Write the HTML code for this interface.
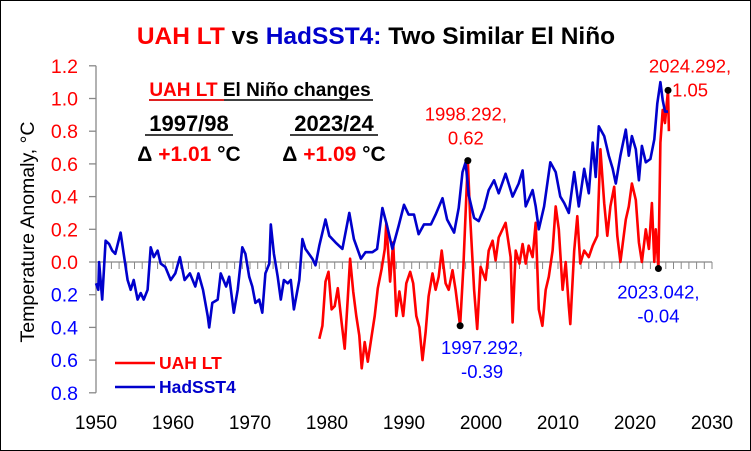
<!DOCTYPE html>
<html><head><meta charset="utf-8"><style>
html,body{margin:0;padding:0;background:#fff}
#wrap{position:relative;width:749px;height:449px;border:1px solid #000;overflow:hidden;font-family:"Liberation Sans",sans-serif}
svg{position:absolute;left:-1px;top:-1px}
</style></head><body>
<div id="wrap">
<svg id="chart" width="751" height="451" xmlns="http://www.w3.org/2000/svg">
<text x="376" y="44" text-anchor="middle" font-size="24.5" font-weight="bold"><tspan fill="#ff0000">UAH LT</tspan><tspan fill="#000"> vs </tspan><tspan fill="#0000cc">HadSST4:</tspan><tspan fill="#000"> Two Similar El Niño</tspan></text>
<text transform="translate(34,232) rotate(-90)" text-anchor="middle" font-size="19.5" fill="#000">Temperature Anomaly, °C</text>
<g>
<text x="260" y="96" text-anchor="middle" font-size="19" font-weight="bold"><tspan fill="#ff0000">UAH LT </tspan><tspan fill="#000">El Niño changes</tspan></text>
<line x1="149" y1="100" x2="373" y2="100" stroke="#000" stroke-width="1.5"/>
<line x1="149" y1="100" x2="224" y2="100" stroke="#ff0000" stroke-width="1.5"/>
<text x="189" y="131" text-anchor="middle" font-size="22" font-weight="bold" fill="#000">1997/98</text>
<line x1="145" y1="135" x2="233" y2="135" stroke="#000" stroke-width="1.5"/>
<text x="334" y="131" text-anchor="middle" font-size="22" font-weight="bold" fill="#000">2023/24</text>
<line x1="290" y1="135" x2="378" y2="135" stroke="#000" stroke-width="1.5"/>
<text x="189" y="161" text-anchor="middle" font-size="21" font-weight="bold"><tspan fill="#000">Δ </tspan><tspan fill="#ff0000">+1.01</tspan><tspan fill="#000"> °C</tspan></text>
<text x="334" y="161" text-anchor="middle" font-size="21" font-weight="bold"><tspan fill="#000">Δ </tspan><tspan fill="#ff0000">+1.09</tspan><tspan fill="#000"> °C</tspan></text>
</g>
<g id="axes"></g>
<g id="series"></g>
<g id="labels"></g>
<g>
<line x1="115" y1="363" x2="155" y2="363" stroke="#ff0000" stroke-width="2.5"/>
<text x="159" y="369" font-size="17.5" font-weight="bold" fill="#ff0000">UAH LT</text>
<line x1="115" y1="387" x2="155" y2="387" stroke="#0000cc" stroke-width="2.5"/>
<text x="159" y="393" font-size="17.5" font-weight="bold" fill="#0000cc">HadSST4</text>
</g>
</svg>
</div>
<script>
const hadYears=[1950.0,1950.3,1950.4,1950.8,1951.25,1951.7,1952.1,1952.5,1953.2,1953.6,1954.1,1954.5,1954.9,1955.4,1955.8,1956.2,1956.7,1957.1,1957.5,1958.0,1958.4,1959.0,1959.7,1960.3,1960.9,1961.5,1962.2,1962.9,1963.3,1963.9,1964.5,1964.7,1965.1,1965.8,1966.2,1966.9,1967.3,1967.9,1968.4,1969.0,1969.4,1969.9,1970.3,1970.7,1971.2,1971.6,1972.0,1972.5,1972.7,1973.1,1973.6,1974.0,1974.4,1974.9,1975.3,1975.7,1976.4,1976.8,1977.2,1978.1,1978.5,1979.0,1979.8,1980.3,1981.1,1982.0,1982.9,1983.5,1984.4,1985.0,1985.9,1986.5,1987.2,1987.8,1988.5,1989.3,1990.0,1990.6,1991.3,1991.9,1992.6,1993.5,1994.1,1995.0,1995.6,1996.5,1997.1,1997.6,1998.0,1998.4,1999.1,1999.7,2000.4,2001.0,2001.7,2002.3,2003.2,2004.1,2004.9,2005.4,2005.8,2006.7,2007.1,2007.5,2008.2,2009.0,2009.7,2010.3,2010.8,2011.4,2012.1,2012.7,2013.4,2014.0,2014.5,2014.9,2015.3,2016.0,2016.6,2017.1,2017.5,2018.1,2018.8,2019.2,2019.6,2020.1,2020.5,2020.9,2021.4,2022.0,2022.5,2022.9,2023.3,2023.6,2023.9,2024.29];
const hadValues=[-0.13,-0.17,0.0,-0.23,0.13,0.11,0.07,0.05,0.18,0.05,-0.11,-0.17,-0.11,-0.23,-0.19,-0.23,-0.17,0.09,0.03,0.07,-0.01,-0.03,-0.11,-0.07,0.03,-0.11,-0.07,-0.15,-0.07,-0.17,-0.33,-0.40,-0.25,-0.23,-0.07,-0.15,-0.09,-0.31,-0.17,0.09,0.05,-0.09,-0.15,-0.25,-0.23,-0.31,-0.07,-0.01,0.23,0.05,-0.09,-0.23,-0.11,-0.13,-0.11,-0.29,-0.11,0.14,0.08,0.02,-0.02,0.10,0.26,0.16,0.12,0.08,0.30,0.14,0.02,0.06,0.06,0.08,0.33,0.22,0.08,0.22,0.35,0.29,0.29,0.17,0.23,0.23,0.29,0.39,0.26,0.18,0.33,0.55,0.61,0.41,0.27,0.25,0.33,0.44,0.50,0.42,0.54,0.40,0.48,0.56,0.34,0.44,0.34,0.20,0.34,0.61,0.55,0.40,0.36,0.30,0.55,0.34,0.57,0.42,0.73,0.52,0.83,0.77,0.65,0.57,0.48,0.65,0.81,0.65,0.77,0.69,0.50,0.71,0.61,0.63,0.75,0.97,1.10,0.99,0.92,0.92];
const uahYears=[1979.0,1979.4,1979.8,1980.2,1980.6,1981.0,1981.4,1981.9,1982.3,1982.7,1983.0,1983.4,1983.8,1984.2,1984.5,1984.9,1985.3,1985.8,1986.2,1986.6,1987.1,1987.5,1987.7,1988.2,1988.6,1989.0,1989.4,1989.9,1990.3,1990.8,1991.2,1991.6,1992.0,1992.4,1992.8,1993.2,1993.7,1994.1,1994.5,1994.9,1995.4,1995.8,1996.3,1996.7,1997.29,1997.7,1998.29,1998.6,1999.1,1999.5,1999.95,2000.6,2001.0,2001.5,2001.9,2002.3,2003.2,2003.85,2004.1,2004.5,2005.0,2005.4,2005.8,2006.2,2006.7,2007.1,2007.5,2007.97,2008.4,2008.8,2009.3,2009.7,2010.1,2010.6,2011.0,2011.4,2011.6,2012.1,2012.5,2012.9,2013.4,2014.0,2014.5,2015.1,2015.5,2016.0,2016.4,2016.8,2017.3,2017.7,2018.1,2018.8,2019.2,2019.6,2020.1,2020.5,2020.9,2021.4,2021.8,2022.2,2022.5,2022.7,2023.04,2023.3,2023.6,2023.9,2024.29,2024.4];
const uahValues=[-0.47,-0.39,-0.12,-0.06,-0.29,-0.27,-0.16,-0.37,-0.53,-0.22,0.02,-0.18,-0.33,-0.45,-0.65,-0.49,-0.61,-0.45,-0.33,-0.16,-0.04,0.08,0.24,-0.12,0.12,-0.33,-0.18,-0.33,-0.13,-0.06,-0.13,-0.33,-0.40,-0.60,-0.43,-0.21,-0.07,-0.17,-0.09,0.07,-0.13,-0.17,-0.05,-0.17,-0.39,-0.04,0.62,0.27,-0.17,-0.41,-0.03,-0.11,0.07,0.13,0.01,0.15,0.24,0.03,-0.37,0.07,-0.01,0.11,-0.01,0.10,0.03,0.24,-0.29,-0.39,-0.17,-0.09,0.07,0.34,0.20,-0.17,0.0,-0.27,-0.38,0.07,0.28,-0.01,0.07,0.03,0.10,0.16,0.69,0.36,0.16,0.34,0.46,0.16,0.0,0.26,0.34,0.48,0.38,0.12,0.0,0.20,0.08,0.36,0.0,0.20,-0.04,0.73,0.93,0.85,1.05,0.80];
const yTicks=[1.2,1.0,0.8,0.6,0.4,0.2,0.0,-0.2,-0.4,-0.6,-0.8];
const yTickLabels=["1.2","1.0","0.8","0.6","0.4","0.2","0.0","0.2","0.4","0.6","0.8"];
const xTicks=[1950,1960,1970,1980,1990,2000,2010,2020,2030];
const callYears=[1998.292,2024.292,1997.292,2023.042];
const callValues=[0.62,1.05,-0.39,-0.04];
const callTexts=[["1998.292,","0.62"],["2024.292,","1.05"],["1997.292,","-0.39"],["2023.042,","-0.04"]];

const NS="http://www.w3.org/2000/svg";
const X=yr=>96+(yr-1950)*7.7;
const Y=v=>262-v*163.5;
function mk(tag,attrs,parent){const e=document.createElementNS(NS,tag);for(const k in attrs)e.setAttribute(k,attrs[k]);parent.appendChild(e);return e;}
const axes=document.getElementById('axes'),series=document.getElementById('series'),labels=document.getElementById('labels');

let yl=mk('line',{x1:X(1950),y1:Y(1.2),x2:X(1950),y2:Y(-0.8),stroke:'#888','stroke-width':1.3},axes);


yTicks.forEach((v,i)=>{
  mk('line',{x1:X(1950)-7,y1:Y(v),x2:X(1950),y2:Y(v),stroke:'#888','stroke-width':1.3},axes);
  const t=mk('text',{x:78,y:Y(v)+7,'text-anchor':'end','font-size':19.5,fill:v>=0?'#ff0000':'#0000ff'},axes);
  t.textContent=yTickLabels[i];
  
  
});
let xl=mk('line',{x1:X(1950),y1:Y(0),x2:X(2030),y2:Y(0),stroke:'#888','stroke-width':1.3},axes);


for(let yr=1950;yr<=2030;yr++){mk('line',{x1:X(yr),y1:Y(0),x2:X(yr),y2:Y(0)+7,stroke:'#888','stroke-width':1},axes);}
xTicks.forEach(yr=>{
  const t=mk('text',{x:X(yr),y:429,'text-anchor':'middle','font-size':19,fill:'#000'},axes);
  t.textContent=String(yr);
  
  
});
function line(ys,vs,color,name){
  const d=ys.map((yr,i)=>(i?'L':'M')+X(yr).toFixed(1)+','+Y(vs[i]).toFixed(1)).join('');
  const p=mk('path',{d:d,fill:'none',stroke:color,'stroke-width':2.6,'stroke-linejoin':'round'},series);
  
  
}
line(uahYears,uahValues,'#ff0000','uah-lt-line');
line(hadYears,hadValues,'#0000cc','hadsst4-line');
const off=[[-2,-46,-22],[22,-24,0],[22,22,46],[0,24,48]];
const cols=['#ff0000','#ff0000','#0000ff','#0000ff'];
callYears.forEach((yr,i)=>{
  const c=mk('circle',{cx:X(yr),cy:Y(callValues[i]),r:3.5,fill:'#000'},labels);
  
  
  const cx=X(yr)+off[i][0];
  [1,2].forEach(j=>{
    const t=mk('text',{x:cx,y:Y(callValues[i])+off[i][j]+6,'text-anchor':'middle','font-size':18.5,fill:cols[i]},labels);
    t.textContent=callTexts[i][j-1];
    
    
  });
});
</script>
</body></html>
